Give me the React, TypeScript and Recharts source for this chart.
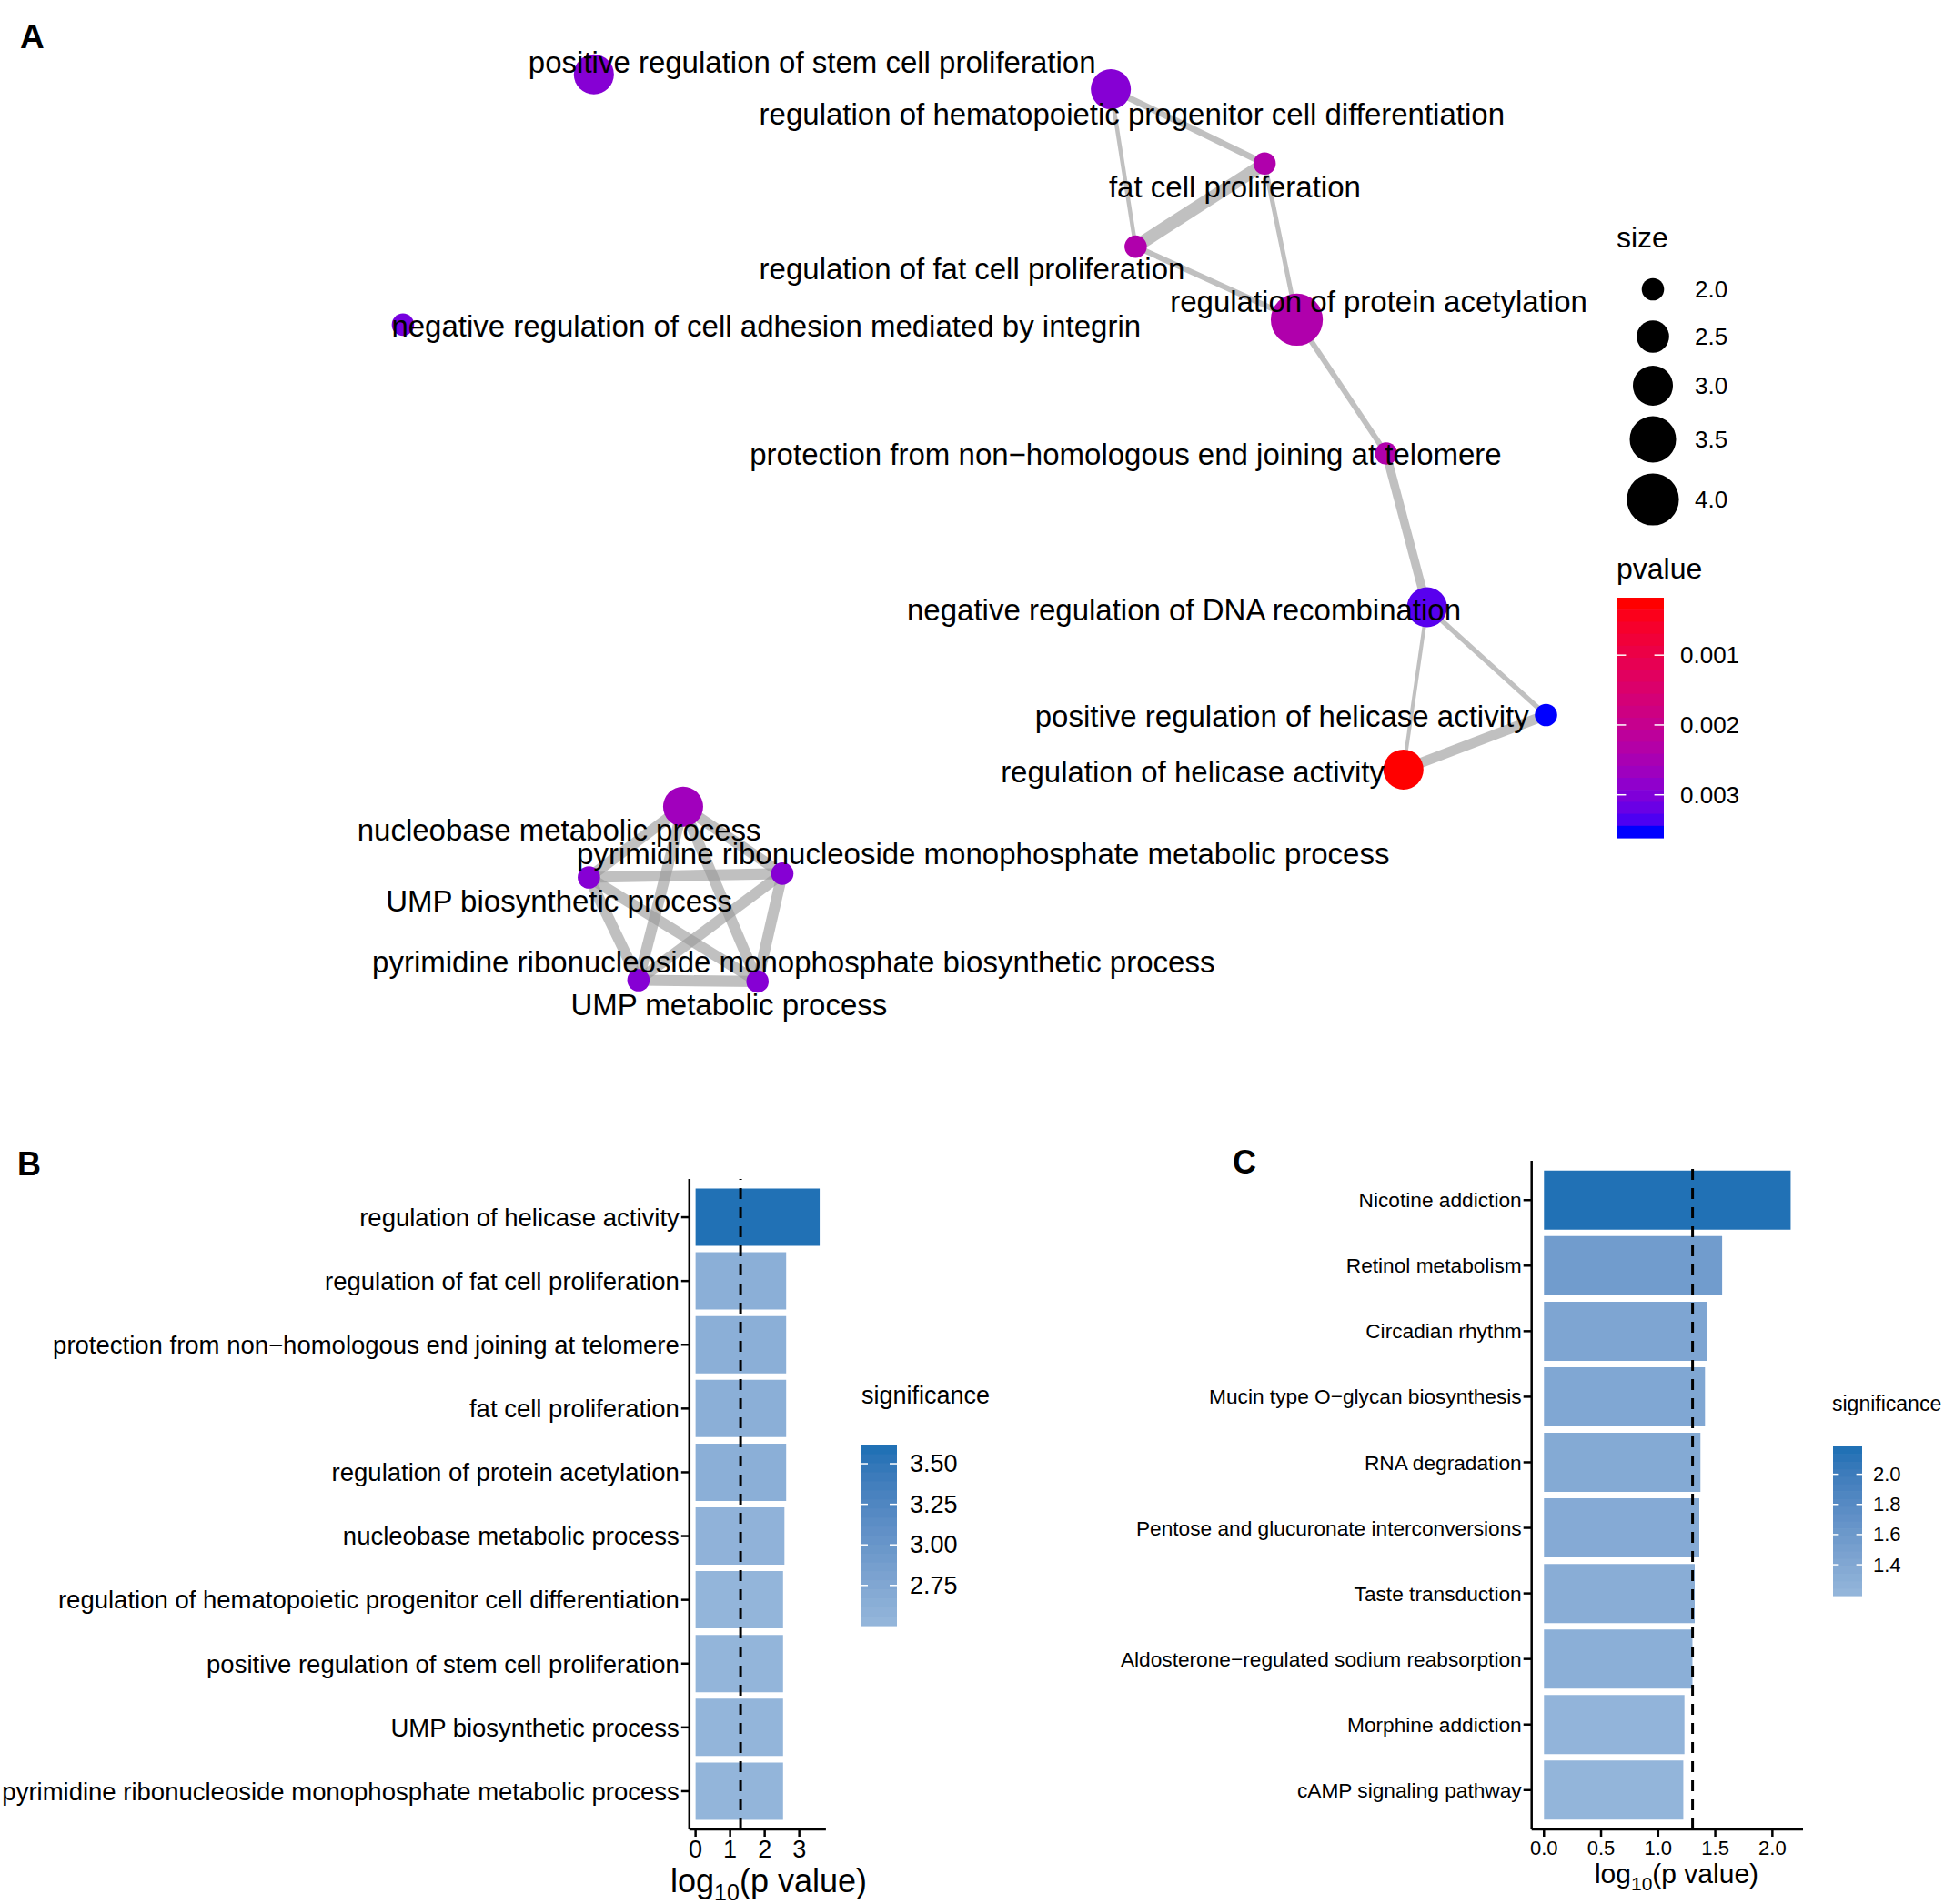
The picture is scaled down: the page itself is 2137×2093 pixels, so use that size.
import React from 'react';
import {
  ScatterChart,
  Scatter,
  XAxis,
  YAxis,
  ZAxis,
  Cell,
  BarChart,
  Bar,
  ReferenceLine,
} from 'recharts';

const FONT = '"Liberation Sans", Arial, Helvetica, sans-serif';

// ---------- panel A: enrichment map ----------
const termNames = [
  'positive regulation of stem cell proliferation',
  'regulation of hematopoietic progenitor cell differentiation',
  'fat cell proliferation',
  'regulation of fat cell proliferation',
  'negative regulation of cell adhesion mediated by integrin',
  'regulation of protein acetylation',
  'protection from non−homologous end joining at telomere',
  'negative regulation of DNA recombination',
  'positive regulation of helicase activity',
  'regulation of helicase activity',
  'nucleobase metabolic process',
  'pyrimidine ribonucleoside monophosphate metabolic process',
  'UMP biosynthetic process',
  'pyrimidine ribonucleoside monophosphate biosynthetic process',
  'UMP metabolic process',
];
// layout coordinates (graph layout)
const layoutX = [4.79, 8.96, 10.2, 9.16, 3.25, 10.46, 11.18, 11.51, 12.47, 11.32, 5.51, 6.31, 4.75, 6.11, 5.15];
const layoutY = [-0.6, -0.72, -1.32, -1.99, -2.62, -2.58, -3.66, -4.9, -5.77, -6.21, -6.51, -7.05, -7.08, -7.92, -7.91];
const termSize = [3, 3, 2, 2, 2, 4, 2, 3, 2, 3, 3, 2, 2, 2, 2];
const termPvalue = [
  0.00295, 0.00295, 0.0024, 0.0024, 0.0031, 0.0024, 0.0024, 0.0033, 0.00353, 0.000263, 0.00263,
  0.00295, 0.00295, 0.00295, 0.00295,
];
// repelled label positions
const labelX = [6.55, 9.13, 9.96, 7.84, 6.18, 11.12, 9.08, 9.55, 10.34, 9.62, 4.51, 7.93, 4.51, 6.4, 5.88];
const labelY = [-0.5, -0.92, -1.51, -2.17, -2.63, -2.43, -3.67, -4.92, -5.78, -6.23, -6.7, -6.89, -7.27, -7.76, -8.11];

const edgeFrom = [1, 1, 2, 2, 3, 5, 6, 7, 7, 8, 10, 10, 10, 10, 11, 11, 11, 12, 12, 13];
const edgeTo = [2, 3, 3, 5, 5, 6, 7, 8, 9, 9, 11, 12, 13, 14, 12, 13, 14, 13, 14, 14];
const edgeWeight = [
  0.5, 0.32, 1.0, 0.36, 0.43, 0.43, 0.68, 0.39, 0.29, 0.79, 0.86, 0.86, 0.86, 0.86, 0.86, 0.86,
  0.86, 0.86, 0.86, 0.86,
];

const sizeTicks = [2.0, 2.5, 3.0, 3.5, 4.0];
const pvalueTicks = [0.001, 0.002, 0.003];

// ---------- panel B: GO terms ----------
const goTerms = [
  'regulation of helicase activity',
  'regulation of fat cell proliferation',
  'protection from non−homologous end joining at telomere',
  'fat cell proliferation',
  'regulation of protein acetylation',
  'nucleobase metabolic process',
  'regulation of hematopoietic progenitor cell differentiation',
  'positive regulation of stem cell proliferation',
  'UMP biosynthetic process',
  'pyrimidine ribonucleoside monophosphate metabolic process',
];
const goValues = [3.59, 2.62, 2.62, 2.62, 2.62, 2.57, 2.53, 2.53, 2.53, 2.53];
const goTicks = [0, 1, 2, 3];
const goLegendTicks = [3.5, 3.25, 3.0, 2.75];

// ---------- panel C: KEGG pathways ----------
const keggTerms = [
  'Nicotine addiction',
  'Retinol metabolism',
  'Circadian rhythm',
  'Mucin type O−glycan biosynthesis',
  'RNA degradation',
  'Pentose and glucuronate interconversions',
  'Taste transduction',
  'Aldosterone−regulated sodium reabsorption',
  'Morphine addiction',
  'cAMP signaling pathway',
];
const keggValues = [2.16, 1.56, 1.43, 1.41, 1.37, 1.36, 1.32, 1.3, 1.23, 1.22];
const keggTicks = [0, 0.5, 1.0, 1.5, 2.0];
const keggLegendTicks = [2.0, 1.8, 1.6, 1.4];

const CUTOFF = -Math.log10(0.05);

// ---------- colour helpers (Lab interpolation like ggplot) ----------
function hexToRgb(hex: string) {
  const n = parseInt(hex.slice(1), 16);
  return [(n >> 16) & 255, (n >> 8) & 255, n & 255];
}
function rgbToLab(rgb: number[]) {
  const lin = rgb.map((c) => {
    const v = c / 255;
    return v <= 0.04045 ? v / 12.92 : Math.pow((v + 0.055) / 1.055, 2.4);
  });
  const [R, G, B] = lin;
  const X = (0.4124 * R + 0.3576 * G + 0.1805 * B) / 0.95047;
  const Y = 0.2126 * R + 0.7152 * G + 0.0722 * B;
  const Z = (0.0193 * R + 0.1192 * G + 0.9505 * B) / 1.08883;
  const f = (t: number) => (t > 0.008856 ? Math.cbrt(t) : 7.787 * t + 16 / 116);
  const fx = f(X), fy = f(Y), fz = f(Z);
  return [116 * fy - 16, 500 * (fx - fy), 200 * (fy - fz)];
}
function labToHex(L: number, a: number, b: number) {
  const fy = (L + 16) / 116;
  const fx = fy + a / 500;
  const fz = fy - b / 200;
  const inv = (t: number) => (t * t * t > 0.008856 ? t * t * t : (t - 16 / 116) / 7.787);
  const X = 0.95047 * inv(fx), Y = inv(fy), Z = 1.08883 * inv(fz);
  const rgb = [
    3.2406 * X - 1.5372 * Y - 0.4986 * Z,
    -0.9689 * X + 1.8758 * Y + 0.0415 * Z,
    0.0557 * X - 0.204 * Y + 1.057 * Z,
  ].map((c) => {
    const v = c <= 0.0031308 ? 12.92 * c : 1.055 * Math.pow(c, 1 / 2.4) - 0.055;
    return Math.round(Math.max(0, Math.min(1, v)) * 255);
  });
  return '#' + rgb.map((c) => c.toString(16).padStart(2, '0')).join('');
}
function gradient(low: string, high: string, t: number) {
  const a = rgbToLab(hexToRgb(low));
  const b = rgbToLab(hexToRgb(high));
  const k = Math.max(0, Math.min(1, t));
  return labToHex(a[0] + (b[0] - a[0]) * k, a[1] + (b[1] - a[1]) * k, a[2] + (b[2] - a[2]) * k);
}

const P_LOW = '#FF0000';
const P_HIGH = '#0000FF';
const SIG_LOW = '#93B5DA';
const SIG_HIGH = '#2171B5';

const pMin = Math.min(...termPvalue);
const pMax = Math.max(...termPvalue);
const pColor = (p: number) => gradient(P_LOW, P_HIGH, (p - pMin) / (pMax - pMin));

const SIZE_AREA: [number, number] = [475, 2570];
const sizeRadius = (s: number) =>
  Math.sqrt((SIZE_AREA[0] + ((s - 2) / 2) * (SIZE_AREA[1] - SIZE_AREA[0])) / Math.PI);

// ---------- legend colour bar ----------
function ColorBar(props: {
  x: number; y: number; w: number; h: number; min: number; max: number;
  low: string; high: string; topIsMax: boolean; ticks: number[];
  fmt: (v: number) => string; fontSize: number; labelX: number;
}) {
  const { x, y, w, h, min, max, low, high, topIsMax, ticks, fmt, fontSize, labelX } = props;
  const nbin = 20;
  const bin = h / nbin;
  const pos = (v: number) => {
    const f = (v - min) / (max - min);
    return topIsMax ? y + bin / 2 + (1 - f) * (h - bin) : y + bin / 2 + f * (h - bin);
  };
  const bins = Array.from({ length: nbin }, (_, i) => {
    const f = i / (nbin - 1);
    const yy = topIsMax ? y + h - (i + 1) * bin : y + i * bin;
    return <rect key={i} x={x} y={yy} width={w} height={bin + 0.6} fill={gradient(low, high, f)} />;
  });
  return (
    <g>
      {bins}
      {ticks.map((t) => (
        <g key={t}>
          <line x1={x} x2={x + w / 5} y1={pos(t)} y2={pos(t)} stroke="#fff" strokeWidth={1.5} />
          <line x1={x + w - w / 5} x2={x + w} y1={pos(t)} y2={pos(t)} stroke="#fff" strokeWidth={1.5} />
          <text x={labelX} y={pos(t)} fontSize={fontSize} dominantBaseline="central" fill="#000">
            {fmt(t)}
          </text>
        </g>
      ))}
    </g>
  );
}

function NetworkPanel() {
  const nodes = termNames.map((name, i) => ({ x: layoutX[i], y: layoutY[i], size: termSize[i], p: termPvalue[i], name }));
  const labels = termNames.map((name, i) => ({ x: labelX[i], y: labelY[i], name }));
  return (
    <ScatterChart width={2137} height={1226} margin={{ top: 0, right: 0, bottom: 0, left: 0 }}>
      <XAxis type="number" dataKey="x" domain={[0, 15.68]} allowDataOverflow hide />
      <YAxis type="number" dataKey="y" domain={[-9, 0]} allowDataOverflow hide />
      <ZAxis type="number" dataKey="size" domain={[2, 4]} range={SIZE_AREA} />
      {edgeFrom.map((a, i) => {
        const b = edgeTo[i];
        return (
          <Scatter
            key={'e' + i}
            data={[
              { x: layoutX[a], y: layoutY[a] },
              { x: layoutX[b], y: layoutY[b] },
            ]}
            line={{ stroke: '#999999', strokeWidth: edgeWeight[i] * 14, strokeOpacity: 0.62 }}
            shape={() => <g />}
            isAnimationActive={false}
          />
        );
      })}
      <Scatter data={nodes} shape="circle" isAnimationActive={false}>
        {nodes.map((n, i) => (
          <Cell key={i} fill={pColor(n.p)} />
        ))}
      </Scatter>
      <Scatter
        data={labels}
        isAnimationActive={false}
        shape={(p: any) => (
          <text
            x={p.cx}
            y={p.cy}
            textAnchor="middle"
            dominantBaseline="central"
            fontSize={33}
            fontFamily={FONT}
            fill="#000"
          >
            {p.payload.name}
          </text>
        )}
      />
    </ScatterChart>
  );
}

function SigBars(props: {
  terms: string[]; values: number[]; ticks: number[]; fmt: (v: number) => string;
  width: number; height: number; yAxisWidth: number; marginRight: number;
  labelSize: number; tickSize: number; pad: number;
}) {
  const { terms, values, ticks, fmt, width, height, yAxisWidth, marginRight, labelSize, tickSize, pad } = props;
  const data = terms.map((t, i) => ({ term: t, value: values[i] }));
  const vMax = Math.max(...values);
  const vMin = Math.min(...values);
  const axisStyle = { stroke: '#000', strokeWidth: 2.5 };
  return (
    <BarChart
      width={width}
      height={height}
      data={data}
      layout="vertical"
      barCategoryGap="5%"
      margin={{ top: 36, right: marginRight, bottom: 42, left: 0 }}
    >
      <XAxis
        type="number"
        dataKey="value"
        domain={[-0.05 * vMax, 1.05 * vMax]}
        allowDataOverflow
        ticks={ticks}
        tickFormatter={fmt}
        height={40}
        tickSize={8}
        tickMargin={4}
        axisLine={axisStyle}
        tickLine={axisStyle}
        tick={{ fill: '#000', fontSize: tickSize, fontFamily: FONT }}
      />
      <YAxis
        type="category"
        dataKey="term"
        width={yAxisWidth}
        interval={0}
        padding={{ top: pad, bottom: pad }}
        tickSize={9}
        tickMargin={2}
        axisLine={axisStyle}
        tickLine={axisStyle}
        tick={{ fill: '#000', fontSize: labelSize, fontFamily: FONT }}
      />
      <Bar dataKey="value" isAnimationActive={false}>
        {data.map((d, i) => (
          <Cell key={i} fill={gradient(SIG_LOW, SIG_HIGH, (d.value - vMin) / (vMax - vMin))} />
        ))}
      </Bar>
      <ReferenceLine x={CUTOFF} stroke="#000" strokeWidth={3} strokeDasharray="12 9" ifOverflow="visible" />
    </BarChart>
  );
}

export default function App() {
  const goMin = Math.min(...goValues), goMax = Math.max(...goValues);
  const kgMin = Math.min(...keggValues), kgMax = Math.max(...keggValues);
  return (
    <div
      style={{
        position: 'absolute',
        left: 0,
        top: 0,
        width: 2137,
        height: 2093,
        background: '#fff',
        fontFamily: FONT,
        overflow: 'hidden',
      }}
    >
      <div style={{ position: 'absolute', left: 0, top: 0 }}>
        <NetworkPanel />
      </div>
      <div style={{ position: 'absolute', left: 0, top: 1260 }}>
        <SigBars
          terms={goTerms}
          values={goValues}
          ticks={goTicks}
          fmt={(v) => String(v)}
          width={940}
          height={833}
          yAxisWidth={757.8}
          marginRight={32.1}
          labelSize={27.5}
          tickSize={27}
          pad={7}
        />
      </div>
      <div style={{ position: 'absolute', left: 1200, top: 1240 }}>
        <SigBars
          terms={keggTerms}
          values={keggValues}
          ticks={keggTicks}
          fmt={(v) => v.toFixed(1)}
          width={800}
          height={853}
          yAxisWidth={483.7}
          marginRight={18}
          labelSize={22.7}
          tickSize={22}
          pad={7.2}
        />
      </div>
      <svg
        width={2137}
        height={2093}
        style={{ position: 'absolute', left: 0, top: 0, pointerEvents: 'none' }}
        fontFamily={FONT}
      >
        {/* panel letters */}
        <text x={22} y={53} fontSize={37} fontWeight="bold">A</text>
        <text x={19} y={1292} fontSize={36} fontWeight="bold">B</text>
        <text x={1355} y={1290} fontSize={36} fontWeight="bold">C</text>

        {/* A: size legend */}
        <text x={1777} y={272} fontSize={32}>size</text>
        {sizeTicks.map((s, i) => {
          const cy = [318, 370, 424, 483, 549][i];
          return (
            <g key={s}>
              <circle cx={1817} cy={cy} r={sizeRadius(s)} fill="#000" />
              <text x={1863} y={cy} fontSize={26} dominantBaseline="central">{s.toFixed(1)}</text>
            </g>
          );
        })}

        {/* A: pvalue legend */}
        <text x={1777} y={636} fontSize={32}>pvalue</text>
        <ColorBar
          x={1777} y={657} w={52} h={264} min={pMin} max={pMax}
          low={P_LOW} high={P_HIGH} topIsMax={false} ticks={pvalueTicks}
          fmt={(v) => v.toFixed(3)} fontSize={26} labelX={1847}
        />

        {/* B legend */}
        <text x={947} y={1543} fontSize={27}>significance</text>
        <ColorBar
          x={946} y={1588} w={40} h={199} min={goMin} max={goMax}
          low={SIG_LOW} high={SIG_HIGH} topIsMax ticks={goLegendTicks}
          fmt={(v) => v.toFixed(2)} fontSize={27} labelX={1000}
        />

        {/* C legend */}
        <text x={2014} y={1551} fontSize={23}>significance</text>
        <ColorBar
          x={2015} y={1590} w={32} h={164} min={kgMin} max={kgMax}
          low={SIG_LOW} high={SIG_HIGH} topIsMax ticks={keggLegendTicks}
          fmt={(v) => v.toFixed(1)} fontSize={22} labelX={2059}
        />

        {/* axis titles */}
        <text x={845} y={2080} fontSize={36} textAnchor="middle">
          log<tspan fontSize={25} dy={9}>10</tspan>
          <tspan dy={-9}>(p value)</tspan>
        </text>
        <text x={1843} y={2070} fontSize={30} textAnchor="middle">
          log<tspan fontSize={21} dy={8}>10</tspan>
          <tspan dy={-8}>(p value)</tspan>
        </text>
      </svg>
    </div>
  );
}
